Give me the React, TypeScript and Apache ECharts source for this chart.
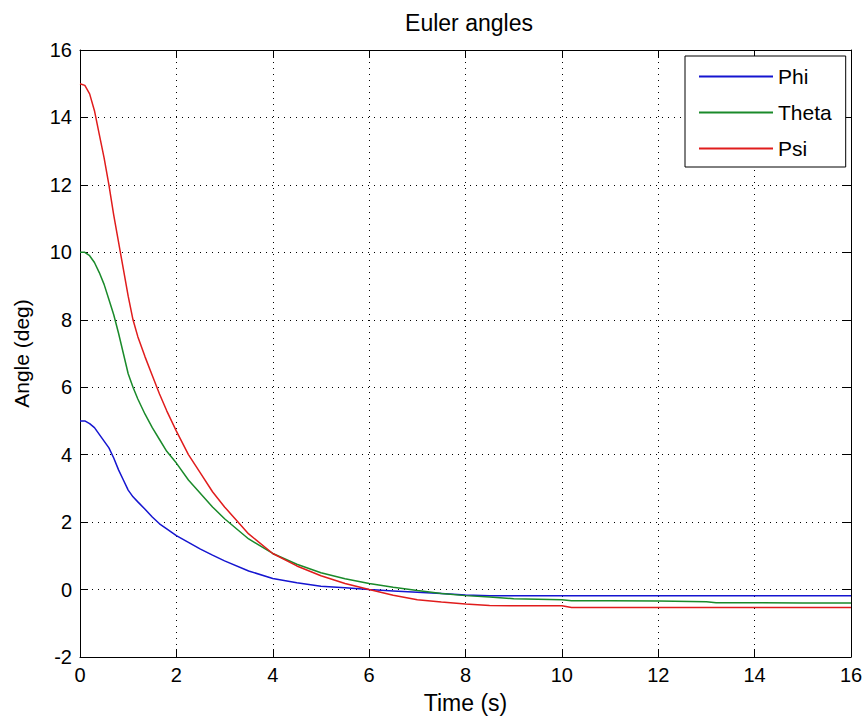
import React, { useEffect, useRef } from "react";
import * as echarts from "echarts";

const times = [0, 0.1, 0.2, 0.3, 0.4, 0.5, 0.6, 0.7, 0.8, 0.9, 1.0, 1.1, 1.2, 1.35, 1.5, 1.65, 1.8, 2.0, 2.25, 2.5, 2.75, 3, 3.5, 4, 4.5, 5, 5.5, 6, 6.5, 7, 7.5, 8, 8.5, 9, 10, 10.2, 11, 12, 13, 13.2, 14, 15, 16];
const phi = [5.0, 5.0, 4.92, 4.8, 4.6, 4.4, 4.2, 3.9, 3.55, 3.25, 2.95, 2.75, 2.6, 2.38, 2.15, 1.95, 1.8, 1.6, 1.4, 1.2, 1.02, 0.85, 0.55, 0.33, 0.2, 0.1, 0.05, 0.0, -0.04, -0.08, -0.12, -0.16, -0.18, -0.18, -0.18, -0.18, -0.18, -0.18, -0.18, -0.18, -0.18, -0.18, -0.18];
const theta = [10, 10, 9.9, 9.7, 9.4, 9.05, 8.6, 8.15, 7.6, 7.0, 6.4, 6.0, 5.65, 5.2, 4.8, 4.45, 4.1, 3.75, 3.25, 2.85, 2.45, 2.1, 1.5, 1.07, 0.75, 0.5, 0.32, 0.18, 0.07, -0.03, -0.12, -0.18, -0.22, -0.27, -0.3, -0.33, -0.33, -0.34, -0.36, -0.39, -0.39, -0.4, -0.4];
const psi = [15, 14.95, 14.7, 14.2, 13.5, 12.8, 12.0, 11.1, 10.3, 9.5, 8.7, 8.0, 7.5, 6.9, 6.35, 5.8, 5.3, 4.7, 4.0, 3.45, 2.9, 2.45, 1.65, 1.07, 0.7, 0.41, 0.18, 0.0, -0.17, -0.3, -0.37, -0.43, -0.47, -0.48, -0.48, -0.53, -0.53, -0.53, -0.53, -0.53, -0.53, -0.53, -0.53];
const seriesNames = ["Phi", "Theta", "Psi"];
const seriesColors = ["#1515d0", "#1a8a2a", "#e01c1c"];

const FONT = "'Liberation Sans', Arial, sans-serif";

export default function App() {
  const ref = useRef<HTMLDivElement>(null);
  useEffect(() => {
    if (!ref.current) return;
    const chart = echarts.init(ref.current, undefined, { renderer: "svg" });
    const values = [phi, theta, psi];
    const dotted = { type: [1, 5] as any, color: "#000", width: 1 };
    const tick = { show: true, inside: true, length: 8, lineStyle: { color: "#000" } };
    const line = { show: true, onZero: false, lineStyle: { color: "#000", width: 1 } };
    const mainX = {
      type: "value" as const,
      min: 0,
      max: 16,
      interval: 2,
      name: "Time (s)",
      nameLocation: "middle" as const,
      nameGap: 34,
      nameTextStyle: { color: "#000", fontSize: 23, fontFamily: FONT },
      axisLine: line,
      axisTick: tick,
      axisLabel: { color: "#000", fontSize: 20, fontFamily: FONT, margin: 8 },
      splitLine: { show: true, lineStyle: dotted },
    };
    const topX = {
      type: "value" as const,
      position: "top" as const,
      min: 0,
      max: 16,
      interval: 2,
      axisLine: line,
      axisTick: tick,
      axisLabel: { show: false },
      splitLine: { show: false },
    };
    const mainY = {
      type: "value" as const,
      min: -2,
      max: 16,
      interval: 2,
      name: "Angle (deg)",
      nameLocation: "middle" as const,
      nameGap: 48,
      nameTextStyle: { color: "#000", fontSize: 21, fontFamily: FONT },
      axisLine: line,
      axisTick: tick,
      axisLabel: { color: "#000", fontSize: 20, fontFamily: FONT, margin: 8 },
      splitLine: { show: true, lineStyle: dotted },
    };
    const rightY = {
      type: "value" as const,
      position: "right" as const,
      min: -2,
      max: 16,
      interval: 2,
      axisLine: line,
      axisTick: tick,
      axisLabel: { show: false },
      splitLine: { show: false },
    };
    chart.setOption({
      animation: false,
      backgroundColor: "#fff",
      title: {
        text: "Euler angles",
        left: 464,
        top: 6,
        textAlign: "center",
        textStyle: { color: "#000", fontSize: 23, fontWeight: "normal", fontFamily: FONT },
      },
      legend: {
        orient: "vertical",
        left: 685,
        top: 56,
        padding: [10, 14, 8, 13],
        itemWidth: 74,
        itemHeight: 14,
        itemGap: 15,
        backgroundColor: "#fff",
        borderColor: "#000",
        borderWidth: 1,
        borderRadius: 0,
        itemStyle: { opacity: 0 },
        textStyle: { color: "#000", fontSize: 21, fontFamily: FONT },
        data: seriesNames,
      },
      grid: { left: 80, right: 15, top: 50, bottom: 65, containLabel: false },
      xAxis: [mainX, topX],
      yAxis: [mainY, rightY],
      series: seriesNames.map((name, i) => ({
        name,
        type: "line",
        xAxisIndex: 0,
        yAxisIndex: 0,
        symbol: "none",
        showSymbol: false,
        color: seriesColors[i],
        lineStyle: { color: seriesColors[i], width: 1.5 },
        data: times.map((t, j) => [t, values[i][j]]),
      })),
    });
    return () => chart.dispose();
  }, []);
  return (
    <div
      ref={ref}
      style={{ position: "fixed", left: 0, top: 0, width: 866, height: 722 }}
    />
  );
}
